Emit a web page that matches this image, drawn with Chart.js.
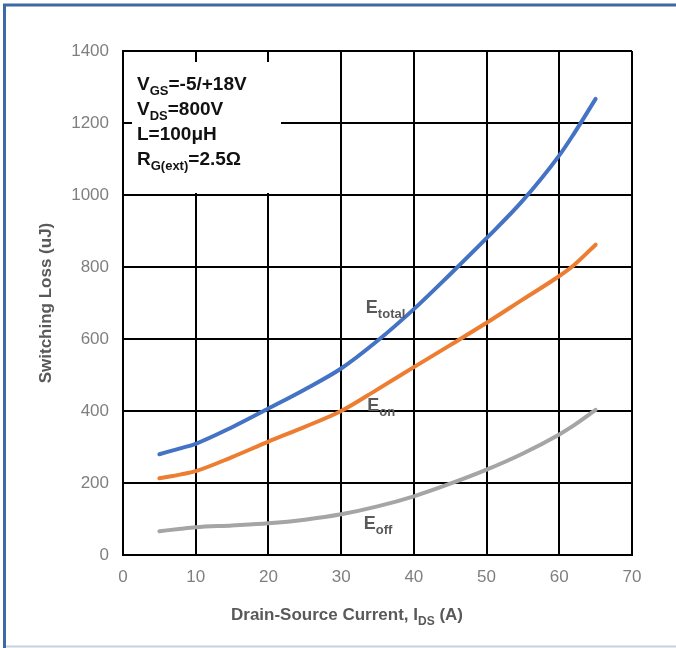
<!DOCTYPE html>
<html>
<head>
<meta charset="utf-8">
<script src="https://cdn.jsdelivr.net/npm/chart.js@4/dist/chart.umd.min.js"></script>
<style>
  html, body { margin: 0; padding: 0; background: #fff; }
  #wrap { width: 676px; height: 648px; }
</style>
</head>
<body>
<div id="wrap"><canvas id="lossChart" width="676" height="648"></canvas></div>
<script>
// drain current (A) and switching energies (uJ)
const currents = [5, 8, 10, 15, 20, 25, 30, 35, 40, 45, 50, 55, 60, 62, 65];
const eTotal = [280, 297, 309, 355, 407, 460, 518, 595, 683, 780, 880, 985, 1110, 1170, 1267];
const eOn = [213, 224, 233, 272, 315, 356, 400, 460, 522, 583, 645, 710, 775, 805, 862];
const eOff = [66, 73, 77, 82, 88, 98, 113, 135, 163, 198, 237, 282, 335, 360, 403];

const xTicks = [0, 10, 20, 30, 40, 50, 60, 70];
const yTicks = [0, 200, 400, 600, 800, 1000, 1200, 1400];

// curve labels: [main, subscript, x, y] in data units
const curveLabels = [
  ["E", "total", 33.4, 672],
  ["E", "on", 33.6, 400],
  ["E", "off", 33.1, 73]
];
const condLines = [
  [["V", 0], ["GS", 1], ["=-5/+18V", 0]],
  [["V", 0], ["DS", 1], ["=800V", 0]],
  [["L=100\u03bcH", 0]],
  [["R", 0], ["G(ext)", 1], ["=2.5\u03a9", 0]]
];

const FONT = "'Liberation Sans Narrow', 'Liberation Sans', Arial, sans-serif";
const GRAY = "#595959";

function toPoints(ys) {
  return currents.map((x, i) => ({ x: x, y: ys[i] }));
}

// text with subscripts, parts = [[text, isSub], ...]
function drawRich(ctx, parts, x, y, size, subSize, weight, color) {
  ctx.fillStyle = color;
  ctx.textBaseline = "alphabetic";
  ctx.textAlign = "left";
  let cx = x;
  parts.forEach(([t, sub]) => {
    ctx.font = weight + " " + (sub ? subSize : size) + "px " + FONT;
    ctx.fillText(t, cx, sub ? y + size * 0.28 : y);
    cx += ctx.measureText(t).width;
  });
  return cx - x;
}

function richWidth(ctx, parts, size, subSize, weight) {
  let w = 0;
  parts.forEach(([t, sub]) => {
    ctx.font = weight + " " + (sub ? subSize : size) + "px " + FONT;
    w += ctx.measureText(t).width;
  });
  return w;
}

const decor = {
  id: "decor",
  beforeDraw(chart) {
    const ctx = chart.ctx;
    ctx.save();
    ctx.fillStyle = "#fff";
    ctx.fillRect(0, 0, chart.width, chart.height);
    // frame
    ctx.strokeStyle = "#c8d2de";
    ctx.lineWidth = 2;
    ctx.beginPath();
    ctx.moveTo(6, 646.5); ctx.lineTo(676, 646.5);
    ctx.stroke();
    ctx.strokeStyle = "#3e68a6";
    ctx.lineWidth = 3;
    ctx.beginPath();
    ctx.moveTo(4.5, 648); ctx.lineTo(4.5, 5); ctx.lineTo(676, 5);
    ctx.stroke();
    ctx.restore();
  },
  beforeDatasetsDraw(chart) {
    const ctx = chart.ctx;
    const area = chart.chartArea;
    ctx.save();
    // conditions box
    const bx = area.left + 9, by = area.top + 11;
    ctx.fillStyle = "#fff";
    ctx.fillRect(bx, by, 149, 131);
    condLines.forEach((parts, i) => {
      drawRich(ctx, parts, bx + 5, by + 28 + i * 25, 19, 13, "bold", "#111");
    });
    ctx.restore();
  },
  afterDatasetsDraw(chart) {
    const ctx = chart.ctx;
    const xs = chart.scales.x, ys = chart.scales.y;
    ctx.save();
    curveLabels.forEach(([m, s, x, y]) => {
      drawRich(ctx, [[m, 0], [s, 1]], xs.getPixelForValue(x), ys.getPixelForValue(y), 18, 13, "600", GRAY);
    });
    // axis titles
    const area = chart.chartArea;
    const xt = [["Drain-Source Current, I", 0], ["DS", 1], [" (A)", 0]];
    const w = richWidth(ctx, xt, 17, 12, "bold");
    drawRich(ctx, xt, 347 - w / 2, 620, 17, 12, "bold", GRAY);
    ctx.translate(51, (area.top + area.bottom) / 2);
    ctx.rotate(-Math.PI / 2);
    ctx.font = "bold 17px " + FONT;
    ctx.textAlign = "center";
    ctx.fillStyle = GRAY;
    ctx.fillText("Switching Loss (uJ)", 0, 0);
    ctx.restore();
  }
};

function series(label, ys, color) {
  return {
    label: label,
    data: toPoints(ys),
    borderColor: color,
    backgroundColor: color,
    borderWidth: 4,
    pointRadius: 0,
    cubicInterpolationMode: "monotone",
    borderCapStyle: "round"
  };
}

new Chart(document.getElementById("lossChart"), {
  type: "line",
  data: {
    datasets: [
      series("Etotal", eTotal, "#4472c4"),
      series("Eon", eOn, "#ed7d31"),
      series("Eoff", eOff, "#a5a5a5")
    ]
  },
  options: {
    responsive: false,
    animation: false,
    layout: { padding: { left: 0, top: 51, right: 44, bottom: 0 } },
    plugins: { legend: { display: false }, tooltip: { enabled: false } },
    scales: {
      x: {
        type: "linear",
        min: xTicks[0],
        max: xTicks[xTicks.length - 1],
        afterBuildTicks(scale) { scale.ticks = xTicks.map(v => ({ value: v })); },
        afterFit(scale) { scale.height = 93; },
        grid: { color: "#000", lineWidth: 2, drawTicks: false },
        border: { color: "#000", width: 2 },
        ticks: { color: "#7f7f7f", padding: 12, font: { family: FONT, size: 17 }, callback: v => String(v) }
      },
      y: {
        min: yTicks[0],
        max: yTicks[yTicks.length - 1],
        afterBuildTicks(scale) { scale.ticks = yTicks.map(v => ({ value: v })); },
        afterFit(scale) { scale.width = 123; },
        grid: { color: "#000", lineWidth: 2, drawTicks: false },
        border: { color: "#000", width: 2 },
        ticks: { color: "#7f7f7f", padding: 14, font: { family: FONT, size: 17 }, callback: v => String(v) }
      }
    }
  },
  plugins: [decor]
});
</script>
</body>
</html>
